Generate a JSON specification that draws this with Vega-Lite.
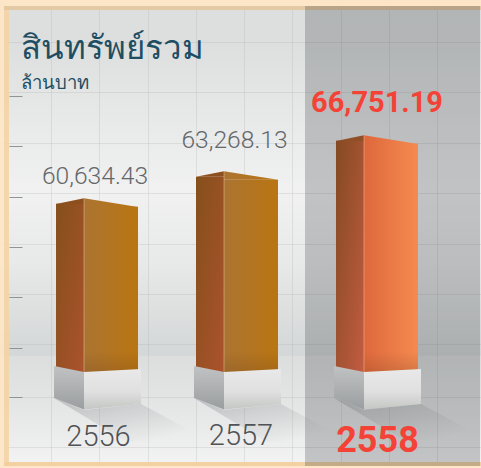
{
"$schema":"https://vega.github.io/schema/vega-lite/v6.json",
"width":481,"height":468,"padding":0,
"autosize":{"type":"none"},
"background":"#ffe6c6",
"config":{"text":{"baseline":"alphabetic"}},
"view":{"stroke":null,"fill":{"gradient":"linear","x1":0,"y1":0,"x2":0,"y2":1,"stops":[
{"offset":0,"color":"#dcdfde"},{"offset":0.09,"color":"#dddfdf"},{"offset":0.28,"color":"#e9eaea"},{"offset":0.41,"color":"#f1f1f1"},{"offset":0.56,"color":"#e8e9e9"},{"offset":0.759,"color":"#d4d7d7"},{"offset":0.761,"color":"#dcdedd"},{"offset":0.855,"color":"#e3e4e4"},{"offset":0.985,"color":"#f2f2f2"},{"offset":1,"color":"#f2f2f2"}]}},
"datasets":{"bars":[
{"year":2556,"total":60634.43,"label":"60,634.43","yearLabel":"2556"},
{"year":2557,"total":63268.13,"label":"63,268.13","yearLabel":"2557"},
{"year":2558,"total":66751.19,"label":"66,751.19","yearLabel":"2558"}],
"one":[{"note":"frame"}]},
"resolve":{"axis":{"y":"independent"}},
"layer":[
{"data":{"name":"one"},"mark":{"type":"rect","fill":"#ffe6c6","opacity":0.92},
"encoding":{
"x":{"datum":2555.307,"type":"quantitative","scale":{"domain":[2555.307,2558.743],"nice":false,"zero":false,"padding":0},
"axis":{"values":[2555.671,2556.016,2556.361,2556.707,2557.05,2557.393,2557.743,2558.086,2558.429],"grid":true,"gridColor":"#a9adad","gridOpacity":0.25,"gridWidth":1,"ticks":false,"labels":false,"domain":false,"title":null}},
"x2":{"datum":2558.743},
"y":{"datum":79886,"type":"quantitative","scale":{"domain":[34449,79886],"nice":false,"zero":false,"padding":0},
"axis":{"values":[75808,70954,66003,61148,56197,51342,46488,41343,36488],"grid":true,"gridColor":"#a9adad","gridOpacity":0.25,"gridWidth":1,"ticks":false,"labels":false,"domain":false,"title":null}},
"y2":{"datum":79303}}},
{"data":{"name":"one"},"mark":{"type":"rect","fill":"#ffe6c6","opacity":0.92},
"encoding":{"x":{"datum":2555.307,"type":"quantitative"},"x2":{"datum":2558.743},
"y":{"datum":34644,"type":"quantitative",
"axis":{"orient":"left","offset":-22,"values":[70566,65663,60808,55906,51032,46100,41294],"grid":false,"ticks":true,"tickSize":13,"tickColor":"#8f9494","tickWidth":1,"labels":false,"domain":false,"title":null}},
"y2":{"datum":34449}}},
{"data":{"name":"one"},"mark":{"type":"rect","fill":"#ffe6c6","opacity":0.92},
"encoding":{"x":{"datum":2555.307,"type":"quantitative"},"x2":{"datum":2555.336},
"y":{"datum":79303,"type":"quantitative","axis":null},"y2":{"datum":34644}}},
{"data":{"name":"one"},"mark":{"type":"rect","fill":"#f4d4a5","opacity":0.92},
"encoding":{"x":{"datum":2555.336,"type":"quantitative"},"x2":{"datum":2555.371},
"y":{"datum":79303,"type":"quantitative","axis":null},"y2":{"datum":34644}}},
{"data":{"name":"one"},"mark":{"type":"rect","fill":"#e4c8a0","opacity":0.95},
"encoding":{"x":{"datum":2555.336,"type":"quantitative"},"x2":{"datum":2558.743},
"y":{"datum":79303,"type":"quantitative","axis":null},"y2":{"datum":78915}}},
{"data":{"name":"one"},"mark":{"type":"rect","fill":"#f2cf9d","opacity":0.95},
"encoding":{"x":{"datum":2555.336,"type":"quantitative"},"x2":{"datum":2558.743},
"y":{"datum":35032,"type":"quantitative","axis":null},"y2":{"datum":34644}}},
{"data":{"name":"one"},"mark":{"type":"rect","fill":"#2a3035","opacity":0.235},
"encoding":{"x":{"datum":2557.486,"type":"quantitative"},"x2":{"datum":2558.736},
"y":{"datum":79303,"type":"quantitative","axis":null},"y2":{"datum":34644}}},

{"data":{"name":"bars"},"mark":{"type":"point","filled":true,"opacity":1,"size":4,"strokeWidth":0,
"shape":"M-43,28L-13,40L44,34L115,72L30,72Z",
"fill":{"gradient":"linear","x1":0,"y1":0,"x2":1,"y2":1,"stops":[{"offset":0,"color":"rgba(90,96,100,0.3)"},{"offset":0.35,"color":"rgba(90,96,100,0.16)"},{"offset":0.8,"color":"rgba(90,96,100,0)"}]}},
"encoding":{"x":{"field":"year","type":"quantitative"},"y":{"datum":43964,"type":"quantitative","axis":null}}},

{"data":{"name":"bars"},"transform":[{"filter":"datum.year<2558"}],"mark":{"type":"bar","orient":"vertical","width":28,"xOffset":-27,"yOffset":5.5,
"fill":{"gradient":"linear","x1":0,"y1":0,"x2":1,"y2":1,"stops":[{"offset":0,"color":"#84501b"},{"offset":1,"color":"#ac522c"}]}},
"encoding":{"x":{"field":"year","type":"quantitative"},"y":{"field":"total","type":"quantitative","axis":null},"y2":{"datum":43673}}},
{"data":{"name":"bars"},"transform":[{"filter":"datum.year<2558"}],"mark":{"type":"bar","orient":"vertical","width":54,"xOffset":14,"yOffset":8.5,
"fill":{"gradient":"linear","x1":0,"y1":0,"x2":1,"y2":0,"stops":[{"offset":0,"color":"#ab7432"},{"offset":1,"color":"#b97511"}]}},
"encoding":{"x":{"field":"year","type":"quantitative"},"y":{"field":"total","type":"quantitative","axis":null},"y2":{"datum":43673}}},
{"data":{"name":"bars"},"transform":[{"filter":"datum.year==2558"}],"mark":{"type":"bar","orient":"vertical","width":28,"xOffset":-27,"yOffset":5.5,
"fill":{"gradient":"linear","x1":0,"y1":0,"x2":1,"y2":1,"stops":[{"offset":0,"color":"#844a22"},{"offset":1,"color":"#c25c42"}]}},
"encoding":{"x":{"field":"year","type":"quantitative"},"y":{"field":"total","type":"quantitative","axis":null},"y2":{"datum":43673}}},
{"data":{"name":"bars"},"transform":[{"filter":"datum.year==2558"}],"mark":{"type":"bar","orient":"vertical","width":54,"xOffset":14,"yOffset":8.5,
"fill":{"gradient":"linear","x1":0,"y1":0,"x2":1,"y2":0,"stops":[{"offset":0,"color":"#de683c"},{"offset":1,"color":"#f58a50"}]}},
"encoding":{"x":{"field":"year","type":"quantitative"},"y":{"field":"total","type":"quantitative","axis":null},"y2":{"datum":43673}}},

{"data":{"name":"bars"},"mark":{"type":"bar","orient":"vertical","width":54,"xOffset":14,
"fill":{"gradient":"linear","x1":0,"y1":0,"x2":0,"y2":1,"stops":[{"offset":0,"color":"rgba(106,60,24,0)"},{"offset":1,"color":"rgba(106,60,24,0.24)"}]}},
"encoding":{"x":{"field":"year","type":"quantitative"},"y":{"datum":45711,"type":"quantitative","axis":null},"y2":{"datum":43673}}},

{"data":{"name":"bars"},"transform":[{"filter":"datum.year<2558"}],"mark":{"type":"point","filled":true,"opacity":1,"size":4,"strokeWidth":0,"shape":"M-41,5.7L-13,0L-13,5.7Z","color":"#8e4f1e"},
"encoding":{"x":{"field":"year","type":"quantitative"},"y":{"field":"total","type":"quantitative","axis":null}}},
{"data":{"name":"bars"},"transform":[{"filter":"datum.year<2558"}],"mark":{"type":"point","filled":true,"opacity":1,"size":4,"strokeWidth":0,"shape":"M-13,0L41,8.7L-13,8.7Z",
"fill":{"gradient":"linear","x1":0,"y1":0,"x2":1,"y2":0,"stops":[{"offset":0,"color":"#ab7432"},{"offset":1,"color":"#b97511"}]}},
"encoding":{"x":{"field":"year","type":"quantitative"},"y":{"field":"total","type":"quantitative","axis":null}}},
{"data":{"name":"bars"},"transform":[{"filter":"datum.year==2558"}],"mark":{"type":"point","filled":true,"opacity":1,"size":4,"strokeWidth":0,"shape":"M-41,5.7L-13,0L-13,5.7Z","color":"#8f4f27"},
"encoding":{"x":{"field":"year","type":"quantitative"},"y":{"field":"total","type":"quantitative","axis":null}}},
{"data":{"name":"bars"},"transform":[{"filter":"datum.year==2558"}],"mark":{"type":"point","filled":true,"opacity":1,"size":4,"strokeWidth":0,"shape":"M-13,0L41,8.7L-13,8.7Z",
"fill":{"gradient":"linear","x1":0,"y1":0,"x2":1,"y2":0,"stops":[{"offset":0,"color":"#de683c"},{"offset":1,"color":"#f58a50"}]}},
"encoding":{"x":{"field":"year","type":"quantitative"},"y":{"field":"total","type":"quantitative","axis":null}}},

{"data":{"name":"bars"},"mark":{"type":"rule","xOffset":-13,"color":"#f6d3b0","opacity":0.45,"strokeWidth":1},
"encoding":{"x":{"field":"year","type":"quantitative"},"y":{"field":"total","type":"quantitative","axis":null},"y2":{"datum":43673}}},

{"data":{"name":"bars"},"mark":{"type":"point","filled":true,"opacity":1,"size":4,"strokeWidth":0,"shape":"M-43,-4L-13,2L-13,39.5L-43,28Z",
"fill":{"gradient":"linear","x1":0,"y1":0,"x2":0,"y2":1,"stops":[{"offset":0,"color":"#c0c2c3"},{"offset":1,"color":"#9b9ea0"}]}},
"encoding":{"x":{"field":"year","type":"quantitative"},"y":{"datum":43964,"type":"quantitative","axis":null}}},
{"data":{"name":"bars"},"mark":{"type":"point","filled":true,"opacity":1,"size":4,"strokeWidth":0,"shape":"M-13,2L44,-1L44,34L-13,39.5Z",
"fill":{"gradient":"linear","x1":0,"y1":0,"x2":0,"y2":1,"stops":[{"offset":0,"color":"#e8e9e8"},{"offset":0.55,"color":"#dfe0df"},{"offset":1,"color":"#c4c6c4"}]}},
"encoding":{"x":{"field":"year","type":"quantitative"},"y":{"datum":43964,"type":"quantitative","axis":null}}},

{"data":{"name":"one"},"mark":{"type":"text","align":"left","baseline":"alphabetic","font":"Noto Sans","fontSize":33,"fontWeight":400,"color":"#1f4e63"},
"encoding":{"x":{"datum":2555.457,"type":"quantitative"},"y":{"datum":74158,"type":"quantitative","axis":null},"text":{"value":"สินทรัพย์รวม"}}},
{"data":{"name":"one"},"mark":{"type":"text","align":"left","baseline":"alphabetic","font":"Noto Sans","fontSize":18.5,"fontWeight":400,"color":"#1f4e63"},
"encoding":{"x":{"datum":2555.457,"type":"quantitative"},"y":{"datum":71245,"type":"quantitative","axis":null},"text":{"value":"ล้านบาท"}}},

{"data":{"name":"bars"},"transform":[{"filter":"datum.year==2556"}],"mark":{"type":"text","baseline":"alphabetic","font":"Roboto","fontWeight":300,"fontSize":24.6,"color":"#64676a","xOffset":-2,"yOffset":-14.5},
"encoding":{"x":{"field":"year","type":"quantitative"},"y":{"field":"total","type":"quantitative","axis":null},"text":{"field":"label"}}},
{"data":{"name":"bars"},"transform":[{"filter":"datum.year==2557"}],"mark":{"type":"text","baseline":"alphabetic","font":"Roboto","fontWeight":300,"fontSize":24.6,"color":"#64676a","xOffset":-2.5,"yOffset":-23},
"encoding":{"x":{"field":"year","type":"quantitative"},"y":{"field":"total","type":"quantitative","axis":null},"text":{"field":"label"}}},
{"data":{"name":"bars"},"transform":[{"filter":"datum.year==2558"}],"mark":{"type":"text","baseline":"alphabetic","font":"Roboto","fontWeight":700,"fontSize":29,"color":"#f44336","yOffset":-23.5},
"encoding":{"x":{"field":"year","type":"quantitative"},"y":{"field":"total","type":"quantitative","axis":null},"text":{"field":"label"}}},

{"data":{"name":"bars"},"transform":[{"filter":"datum.year==2556"}],"mark":{"type":"text","baseline":"alphabetic","font":"Roboto","fontWeight":300,"fontSize":29,"color":"#505356","xOffset":1.5,"yOffset":76},
"encoding":{"x":{"field":"year","type":"quantitative"},"y":{"datum":43964,"type":"quantitative","axis":null},"text":{"field":"yearLabel"}}},
{"data":{"name":"bars"},"transform":[{"filter":"datum.year==2557"}],"mark":{"type":"text","baseline":"alphabetic","font":"Roboto","fontWeight":300,"fontSize":29,"color":"#505356","xOffset":4,"yOffset":75},
"encoding":{"x":{"field":"year","type":"quantitative"},"y":{"datum":43964,"type":"quantitative","axis":null},"text":{"field":"yearLabel"}}},
{"data":{"name":"bars"},"transform":[{"filter":"datum.year==2558"}],"mark":{"type":"text","baseline":"alphabetic","font":"Roboto","fontWeight":700,"fontSize":36,"color":"#f44336","xOffset":0.5,"yOffset":82},
"encoding":{"x":{"field":"year","type":"quantitative"},"y":{"datum":43964,"type":"quantitative","axis":null},"text":{"field":"yearLabel"}}}
]
}
